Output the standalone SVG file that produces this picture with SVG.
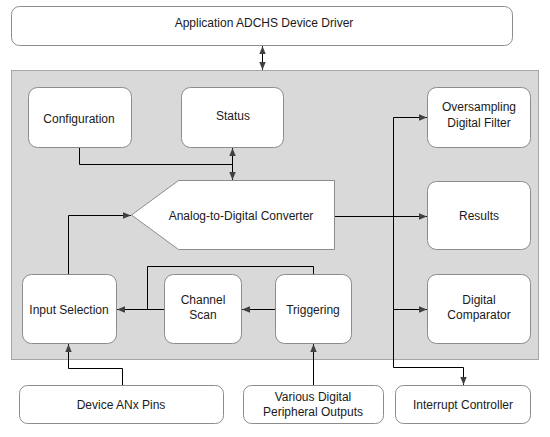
<svg xmlns="http://www.w3.org/2000/svg" width="550" height="437" viewBox="0 0 550 437">
<style>
.box{fill:#fff;stroke:#8c8c8c;stroke-width:1}
.t{font-family:"Liberation Sans",Arial,sans-serif;font-size:12px;fill:#1a1a1a;text-anchor:middle}
.c{fill:none;stroke:#000;stroke-width:1}
</style>
<defs>
<marker id="a" viewBox="0 0 10 10" refX="10" refY="5" markerWidth="8" markerHeight="8" markerUnits="userSpaceOnUse" orient="auto-start-reverse">
<path d="M0,1 L10,5 L0,9 Z" fill="#404040"/>
</marker>
</defs>
<rect x="0" y="0" width="550" height="437" fill="#fff"/>
<g id="panel"><rect x="11.5" y="70.5" width="527" height="289" fill="#d9d9d9" stroke="#a6a6a6"/></g>
<g id="driver"><rect class="box" x="11.5" y="6.5" width="501" height="39" rx="8"/><text class="t" x="264" y="27">Application ADCHS Device Driver</text></g>
<g id="configuration"><rect class="box" x="28.5" y="87.5" width="103" height="60" rx="9"/><text class="t" x="79" y="123">Configuration</text></g>
<g id="status"><rect class="box" x="181.5" y="87.5" width="102" height="60" rx="9"/><text class="t" x="233" y="120">Status</text></g>
<g id="oversampling"><rect class="box" x="427.5" y="87.5" width="103" height="60" rx="9"/><text class="t" x="479" y="111">Oversampling</text><text class="t" x="479" y="127">Digital Filter</text></g>
<g id="adc"><path class="box" d="M131.5,215 L178.5,180.5 L334.5,180.5 L334.5,249.5 L178.5,249.5 Z"/><text class="t" x="241" y="220">Analog-to-Digital Converter</text></g>
<g id="results"><rect class="box" x="427.5" y="181.5" width="103" height="68" rx="9"/><text class="t" x="479" y="220">Results</text></g>
<g id="input"><rect class="box" x="22.5" y="274.5" width="94" height="69" rx="9"/><text class="t" x="69" y="314">Input Selection</text></g>
<g id="channel"><rect class="box" x="164.5" y="274.5" width="77" height="69" rx="9"/><text class="t" x="203" y="304">Channel</text><text class="t" x="203" y="319">Scan</text></g>
<g id="triggering"><rect class="box" x="275.5" y="274.5" width="76" height="69" rx="9"/><text class="t" x="313" y="314">Triggering</text></g>
<g id="comparator"><rect class="box" x="427.5" y="274.5" width="103" height="69" rx="9"/><text class="t" x="479" y="304">Digital</text><text class="t" x="479" y="319">Comparator</text></g>
<g id="anx"><rect class="box" x="19.5" y="385.5" width="204" height="38" rx="8"/><text class="t" x="121" y="409">Device ANx Pins</text></g>
<g id="various"><rect class="box" x="243.5" y="385.5" width="140" height="38" rx="8"/><text class="t" x="313" y="401">Various Digital</text><text class="t" x="313" y="416">Peripheral Outputs</text></g>
<g id="interrupt"><rect class="box" x="395.5" y="385.5" width="135" height="38" rx="8"/><text class="t" x="463" y="409">Interrupt Controller</text></g>
<g id="connectors">
<path class="c" d="M262.5,46 L262.5,70" marker-start="url(#a)" marker-end="url(#a)"/>
<path class="c" d="M79.5,148 L79.5,164.5 L232.5,164.5"/>
<path class="c" d="M232.5,148 L232.5,180" marker-start="url(#a)" marker-end="url(#a)"/>
<path class="c" d="M68.5,274 L68.5,215.5 L131,215.5" marker-end="url(#a)"/>
<path class="c" d="M335,216.5 L427,216.5" marker-end="url(#a)"/>
<path class="c" d="M427,117.5 L393.5,117.5 L393.5,367.5 L463.5,367.5 L463.5,385" marker-start="url(#a)" marker-end="url(#a)"/>
<path class="c" d="M393.5,309.5 L427,309.5" marker-end="url(#a)"/>
<path class="c" d="M275,309.5 L242,309.5" marker-end="url(#a)"/>
<path class="c" d="M164,309.5 L117,309.5" marker-end="url(#a)"/>
<path class="c" d="M313.5,274 L313.5,266.5 L147.5,266.5 L147.5,309.5"/>
<path class="c" d="M122.5,385 L122.5,368.5 L68.5,368.5 L68.5,344" marker-end="url(#a)"/>
<path class="c" d="M313.5,385 L313.5,344" marker-end="url(#a)"/>
</g>
</svg>
